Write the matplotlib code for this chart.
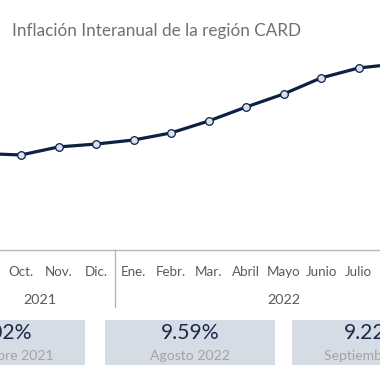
import matplotlib
matplotlib.use("Agg")
import matplotlib.pyplot as plt
from matplotlib.patches import Rectangle
from matplotlib.transforms import blended_transform_factory

# Datos
MONTHS = ["Sept.", "Oct.", "Nov.", "Dic.", "Ene.", "Febr.", "Mar.", "Abril",
          "Mayo", "Junio", "Julio", "Agosto", "Sept."]
YEARS = ["2021", "2022"]
YEAR_SPANS = [(0, 3), (4, 12)]
INFLATION = [4.02, 3.93, 4.43, 4.61, 4.86, 5.30, 6.04, 6.91, 7.72, 8.72, 9.34, 9.59, 9.22]
CARD_VALUES = [4.02, 9.59, 9.22]
CARD_LABELS = ["Septiembre 2021", "Agosto 2022", "Septiembre 2022"]

LINE_COLOR = "#0c2143"
MARKER_FACE = "#d8e1ef"
TITLE_COLOR = "#707070"
LABEL_COLOR = "#5a5a5a"
GRID_COLOR = "#b8b8b8"
CARD_COLOR = "#d6dce5"
CARD_TEXT = "#1b2a47"
CARD_SUB = "#a3a3a3"

plt.rcParams["font.family"] = ["Lato", "DejaVu Sans"]

W = H = 380
XLIM = (0.44, 10.573)  # vista recortada: Oct. 2021 .. Julio 2022

fig = plt.figure(figsize=(3.8, 3.8), dpi=100)
fig.patch.set_facecolor("white")

# eje principal: ocupa de y=45 a y=250 px, recortado a los lados
ax = fig.add_axes([0, (H - 250) / H, 1, 205 / H])
ax.plot(range(len(INFLATION)), INFLATION, color=LINE_COLOR, linewidth=2.3,
        marker="o", markersize=5.5, markerfacecolor=MARKER_FACE,
        markeredgecolor=LINE_COLOR, markeredgewidth=0.9, zorder=3,
        solid_capstyle="round")
for s in ["top", "right", "left"]:
    ax.spines[s].set_visible(False)
ax.spines["bottom"].set_color(GRID_COLOR)
ax.spines["bottom"].set_linewidth(1.0)
ax.set_yticks([])
ax.set_xticks(range(len(MONTHS)))
ax.set_xticklabels(MONTHS, fontsize=9.6, color=LABEL_COLOR)
ax.tick_params(axis="x", length=0, pad=16)
for lbl in ax.get_xticklabels():
    lbl.set_verticalalignment("center")
ax.set_ylim(-1.98, 10.77)

# años y separador
trans = blended_transform_factory(ax.transData, fig.transFigure)
for year, (a, b) in zip(YEARS, YEAR_SPANS):
    ax.text((a + b) / 2, (H - 300) / H, year, transform=trans, ha="center",
            va="center", fontsize=10.4, color=LABEL_COLOR, clip_on=False)
sep_x = (YEAR_SPANS[0][1] + YEAR_SPANS[1][0]) / 2
ax.plot([sep_x, sep_x], [(H - 250) / H, (H - 307) / H], transform=trans,
        color=GRID_COLOR, linewidth=1.0, clip_on=False)
ax.set_xlim(*XLIM)

# título
fig.text(12 / W, (H - 31) / H, "Inflación Interanual de la región CARD",
         fontsize=12.3, color=TITLE_COLOR, ha="left", va="center")

# tarjetas
card_centers = [0, 190, 377]
text_shift = [3, 0, -4]
card_w, card_top, card_bot = 170, 320, 365
for cx, dx, val, lab in zip(card_centers, text_shift, CARD_VALUES, CARD_LABELS):
    fig.patches.append(Rectangle(((cx - card_w / 2) / W, (H - card_bot) / H),
                                 card_w / W, (card_bot - card_top) / H,
                                 transform=fig.transFigure, facecolor=CARD_COLOR,
                                 edgecolor="none", zorder=1))
    fig.text((cx + dx) / W, (H - 333) / H, f"{val:.2f}%", fontsize=15.2,
             color=CARD_TEXT, ha="center", va="center", zorder=2)
    fig.text(cx / W, (H - 356) / H, lab, fontsize=10.1, color=CARD_SUB,
             ha="center", va="center", zorder=2)

fig.savefig("out.png", dpi=100, facecolor="white")
